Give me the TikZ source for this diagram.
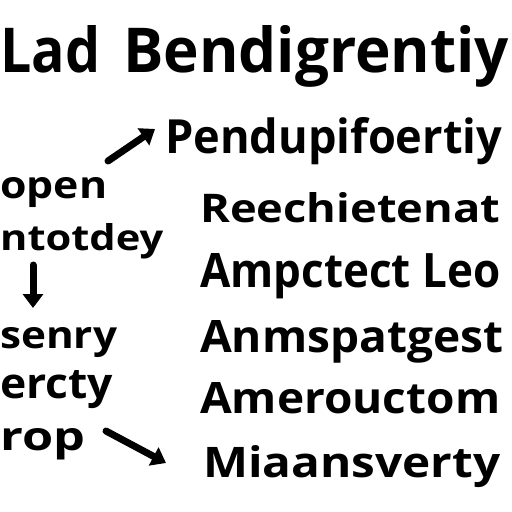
\documentclass[tikz,border=0pt]{standalone}
\usepackage{fontspec}
\setmainfont{Open Sans}
\usepackage{graphicx}
\usetikzlibrary{arrows.meta}
\newcommand{\fitbox}[3]{\resizebox{#1pt}{#2pt}{\bfseries #3}}
\begin{document}
\begin{tikzpicture}[x=1pt,y=-1pt,
  txt/.style={anchor=base west,inner sep=0pt,text=black},
  arr/.style={line width=7pt,line cap=round,-{Triangle[length=14pt,width=20pt]},black}]
\useasboundingbox[fill=white] (0,0) rectangle (512,512);
% title
\node[txt] (lad) at (0,72) {\fitbox{100}{47}{Lad}};
\node[txt] (bend) at (123,72) {\fitbox{386}{47}{Bendigrentiy}};
% right column
\node[txt] (r1) at (165,153) {\fitbox{337}{36}{Pendupifoertiy}};
\node[txt] (r2) at (200,222) {\fitbox{300}{30}{Reechietenat}};
\node[txt] (r3) at (200,287) {\fitbox{300}{34}{Ampctect Leo}};
\node[txt] (r4) at (200,352) {\fitbox{303}{32}{Anmspatgest}};
\node[txt] (r5) at (200,413) {\fitbox{300}{31}{Amerouctom}};
\node[txt] (r6) at (203,477) {\fitbox{297}{32}{Miaansverty}};
% left column
\node[txt] (l1) at (0,198) {\fitbox{107}{21}{open}};
\node[txt] (l2) at (0,250) {\fitbox{163}{27}{ntotdey}};
\node[txt] (l3) at (0,348) {\fitbox{117}{21}{senry}};
\node[txt] (l4) at (0,398) {\fitbox{113}{28}{ercty}};
\node[txt] (l5) at (0,450) {\fitbox{85}{22}{rop}};
% arrows
\coordinate (a1s) at (108,161);
\coordinate (a1e) at (155,129);
\coordinate (a2s) at (33,265);
\coordinate (a2e) at (33,308);
\coordinate (a3s) at (106,431);
\coordinate (a3e) at (166,463);
\draw[arr] (a1s) -- (a1e);
\draw[arr] (a2s) -- (a2e);
\draw[arr] (a3s) -- (a3e);
\end{tikzpicture}
\end{document}
